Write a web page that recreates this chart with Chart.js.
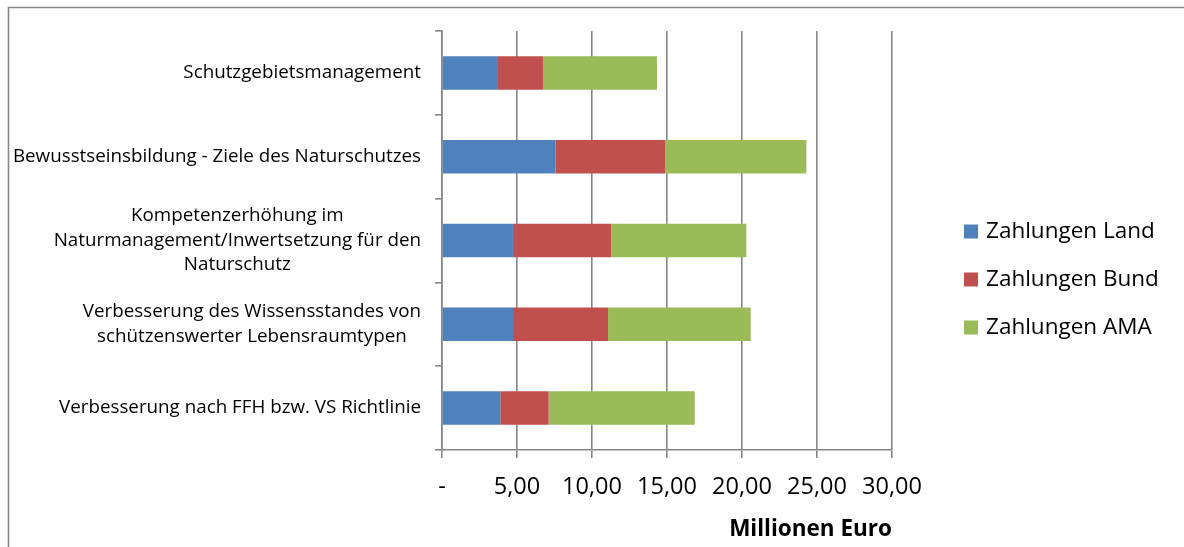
<!DOCTYPE html>
<html lang="de">
<head>
<meta charset="utf-8">
<title>Zahlungen nach Maßnahmen</title>
<script src="https://cdn.jsdelivr.net/npm/chart.js@4/dist/chart.umd.min.js"></script>
<style>
  html, body { margin: 0; padding: 0; background: #ffffff; }
  #wrap { width: 1184px; height: 547px; position: relative; }
</style>
</head>
<body>
<div id="wrap"><canvas id="chart" width="1184" height="547"></canvas></div>
<script>
// Maßnahmen (top to bottom)
const categories = [
  ['Schutzgebietsmanagement'],
  ['Bewusstseinsbildung - Ziele des Naturschutzes'],
  ['Kompetenzerhöhung im', 'Naturmanagement/Inwertsetzung für den', 'Naturschutz'],
  ['Verbesserung des Wissensstandes von', 'schützenswerter Lebensraumtypen'],
  ['Verbesserung nach FFH bzw. VS Richtlinie']
];

// Zahlungen in Millionen Euro
const zahlungenLand = [3.73, 7.56, 4.73, 4.80, 3.89];
const zahlungenBund = [3.00, 7.31, 6.56, 6.27, 3.22];
const zahlungenAMA  = [7.60, 9.42, 9.00, 9.51, 9.74];

const seriesNames = ['Zahlungen Land', 'Zahlungen Bund', 'Zahlungen AMA'];
const seriesColors = ['#4F81BD', '#C0504D', '#9BBB59'];

const xTickValues = [0, 5, 10, 15, 20, 25, 30];
const xTickLabels = ['-', '5,00', '10,00', '15,00', '20,00', '25,00', '30,00'];
const xTitle = 'Millionen Euro';

const FONT = "'Open Sans', 'DejaVu Sans', sans-serif";
const AXIS_GREY = '#868686';

// Frame line along the top and left edge of the chart
const framePlugin = {
  id: 'frame',
  beforeDraw(chart) {
    const ctx = chart.ctx;
    ctx.save();
    ctx.fillStyle = '#ffffff';
    ctx.fillRect(0, 0, chart.width, chart.height);
    ctx.strokeStyle = AXIS_GREY;
    ctx.lineWidth = 1.6;
    ctx.beginPath();
    ctx.moveTo(8.5, chart.height);
    ctx.lineTo(8.5, 7.5);
    ctx.lineTo(chart.width, 7.5);
    ctx.stroke();
    ctx.restore();
  }
};

// Category labels: each label block right-aligned, its lines centred within the block
const categoryLabelPlugin = {
  id: 'categoryLabels',
  afterDraw(chart) {
    const ctx = chart.ctx;
    const yScale = chart.scales.y;
    const rightEdge = yScale.right - 21;
    const lineHeight = 24.5;
    ctx.save();
    ctx.font = '18.8px ' + FONT;
    ctx.fillStyle = '#000000';
    ctx.textBaseline = 'middle';
    ctx.textAlign = 'center';
    categories.forEach((lines, i) => {
      const cy = yScale.getPixelForValue(i);
      const widest = Math.max(...lines.map(l => ctx.measureText(l).width));
      const cx = rightEdge - widest / 2;
      const startY = cy - (lines.length - 1) * lineHeight / 2;
      lines.forEach((line, j) => ctx.fillText(line, cx, startY + j * lineHeight));
    });
    ctx.restore();
  }
};

// Legend to the right of the plot
const sideLegendPlugin = {
  id: 'sideLegend',
  afterDraw(chart) {
    const ctx = chart.ctx;
    const area = chart.chartArea;
    const box = 14;
    const gap = 48;
    const left = area.right + 72;
    const midY = (area.top + area.bottom) / 2 + 39;
    const items = chart.data.datasets;
    ctx.save();
    ctx.font = '22.5px ' + FONT;
    ctx.textBaseline = 'middle';
    ctx.textAlign = 'left';
    items.forEach((ds, i) => {
      const cy = midY + (i - (items.length - 1) / 2) * gap;
      ctx.fillStyle = ds.backgroundColor;
      ctx.fillRect(left, cy - box / 2, box, box);
      ctx.fillStyle = '#000000';
      ctx.fillText(ds.label, left + 22, cy);
    });
    ctx.restore();
  }
};

const seriesValues = [zahlungenLand, zahlungenBund, zahlungenAMA];

new Chart(document.getElementById('chart'), {
  type: 'bar',
  data: {
    labels: categories.map(c => c.join(' ')),
    datasets: seriesValues.map((vals, i) => ({
      label: seriesNames[i],
      data: vals,
      backgroundColor: seriesColors[i],
      borderWidth: 0,
      barPercentage: 0.4,
      categoryPercentage: 1.0
    }))
  },
  options: {
    indexAxis: 'y',
    responsive: false,
    animation: false,
    devicePixelRatio: 1,
    layout: { padding: { top: 31, right: 292, bottom: 4, left: 0 } },
    plugins: {
      legend: { display: false },
      tooltip: { enabled: false }
    },
    scales: {
      x: {
        stacked: true,
        min: 0,
        max: 30,
        afterBuildTicks(scale) {
          scale.ticks = xTickValues.map(v => ({ value: v }));
        },
        afterFit(scale) { scale.height = 93; },
        ticks: {
          font: { family: FONT, size: 23.5 },
          color: '#000000',
          padding: 15,
          maxRotation: 0,
          autoSkip: false,
          callback: (value) => {
            const idx = xTickValues.indexOf(value);
            return idx >= 0 ? xTickLabels[idx] : '';
          }
        },
        grid: {
          color: AXIS_GREY,
          lineWidth: 1.6,
          drawTicks: true,
          tickLength: 8
        },
        border: { display: true, color: AXIS_GREY, width: 1.6 },
        title: {
          display: true,
          text: xTitle,
          align: 'end',
          color: '#000000',
          font: { family: FONT, size: 22.5, weight: 'bold' },
          padding: { top: 10, bottom: 0 }
        }
      },
      y: {
        stacked: true,
        afterFit(scale) { scale.width = 442; },
        ticks: { display: false },
        grid: {
          display: true,
          offset: true,
          drawOnChartArea: false,
          drawTicks: true,
          tickLength: 7,
          color: AXIS_GREY,
          lineWidth: 1.6
        },
        border: { display: true, color: AXIS_GREY, width: 1.6 }
      }
    }
  },
  plugins: [framePlugin, categoryLabelPlugin, sideLegendPlugin]
});
</script>
</body>
</html>
